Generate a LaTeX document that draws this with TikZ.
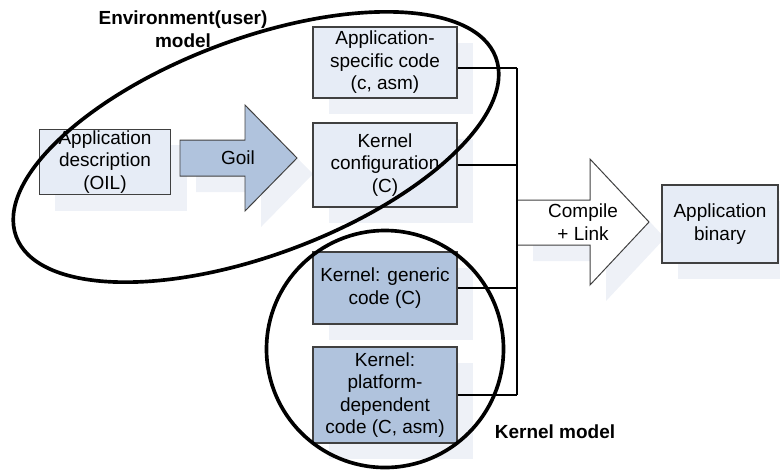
\documentclass[tikz,border=0pt]{standalone}
\usepackage{fontspec}
\setmainfont{Liberation Sans}
\usetikzlibrary{shadows}
\definecolor{boxfill}{HTML}{E6ECF6}
\definecolor{boxdark}{HTML}{B0C3DD}
\definecolor{shadowfill}{HTML}{EEF1F7}
\definecolor{edge}{HTML}{404040}
\begin{document}
\begin{tikzpicture}[x=0.025cm, y=-0.025cm,
    boxshadow/.style={drop shadow={shadow xshift=0.4cm, shadow yshift=-0.4cm, fill=shadowfill, opacity=1}},
    box/.style={draw=edge, line width=0.9pt, fill=boxfill, boxshadow, inner sep=0pt, align=center, font=\fontsize{13.5}{16}\selectfont},
    darkbox/.style={box, fill=boxdark},
    bigarrow/.style={draw=edge, line width=0.7pt, boxshadow},
    arrowtext/.style={align=center, font=\fontsize{13.5}{16}\selectfont},
    wire/.style={line width=1.4pt, black},
    ring/.style={line width=2.6pt, black},
    modellabel/.style={align=center, font=\bfseries\fontsize{13.5}{16}\selectfont}
  ]
  \useasboundingbox (0,0) rectangle (780,470);

  % input side
  \node[box, minimum width=3.28cm, minimum height=1.63cm] (appdesc) at (105,162) {Application\\description\\(OIL)};
  \draw[bigarrow, fill=boxdark] (180,140) -- (245,140) -- (245,105) -- (297,158) -- (245,211) -- (245,176) -- (180,176) -- cycle;
  \node[arrowtext] (goil) at (238,158) {Goil};

  % sources
  \node[box, minimum width=3.6cm, minimum height=1.78cm] (appcode) at (385,62.5) {Application-\\specific code\\(c, asm)};
  \node[box, minimum width=3.6cm, minimum height=2.1cm] (kconf) at (385,165) {Kernel\\configuration\\(C)};
  \node[darkbox, minimum width=3.6cm, minimum height=1.8cm] (kgen) at (385,288) {Kernel: generic\\code (C)};
  \node[darkbox, minimum width=3.6cm, minimum height=2.4cm] (kplat) at (385,395) {Kernel:\\platform-\\dependent\\code (C, asm)};

  % build step
  \draw[bigarrow, fill=white] (517,200) -- (590,200) -- (590,159) -- (649,222) -- (590,285) -- (590,245) -- (517,245) -- cycle;
  \node[arrowtext] (compile) at (583,222) {Compile\\+ Link};
  \node[box, minimum width=2.9cm, minimum height=1.95cm] (appbin) at (720,224) {Application\\binary};

  % wiring to the build step
  \coordinate (bus) at (517,0);
  \coordinate (codeout) at ([yshift=-0.14cm]appcode.east);
  \draw[wire] (codeout) -- (codeout -| bus);
  \draw[wire] (kconf.east) -- (kconf.east -| bus);
  \draw[wire] (kgen.east) -- (kgen.east -| bus);
  \draw[wire] (kplat.east) -- (kplat.east -| bus);
  \draw[wire] (codeout -| bus) -- (kplat.east -| bus);

  % model outlines
  \draw[ring, rotate around={20.5:(256,147)}] (256,147) ellipse [x radius=256, y radius=108];
  \draw[ring] (385,349) circle [radius=118.5];
  \node[modellabel] (envlabel) at (183,29) {Environment(user)\\model};
  \node[modellabel] (kernlabel) at (555,432) {Kernel model};
\end{tikzpicture}
\end{document}
